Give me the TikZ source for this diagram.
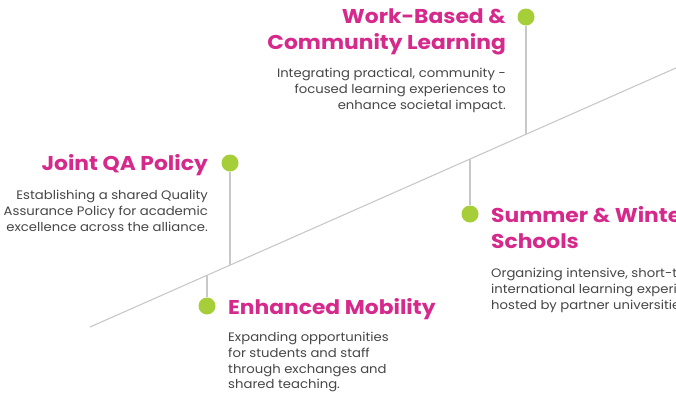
\documentclass[tikz,border=0pt]{standalone}
\usepackage{fontspec}
\setmainfont{Poppins}
\newfontfamily\ttlfont[FakeStretch=1.09]{Poppins}
\newfontfamily\bodyfont[FakeStretch=1.075]{Poppins}
\definecolor{mag}{RGB}{214,41,140}
\definecolor{lime}{RGB}{166,206,57}
\definecolor{txt}{RGB}{70,70,70}
\definecolor{ln}{RGB}{200,200,200}
\begin{document}
\begin{tikzpicture}[x=1pt,y=-1pt,
  dot/.style={circle,fill=lime,inner sep=0pt,minimum size=17pt},
  ttl/.style={text=mag,font=\ttlfont\fontsize{20}{26}\selectfont\bfseries,inner sep=0pt},
  body/.style={text=txt,font=\bodyfont\fontsize{12.3}{15.8}\selectfont,inner sep=0pt},
  lnk/.style={draw=ln,line width=1.1pt}]
\useasboundingbox (0,0) rectangle (676,392);
\clip (0,0) rectangle (676,392);
% main line
\coordinate (s) at (90,327);
\coordinate (e) at (680,66.2);
\draw[lnk] (s) -- (e);
% stems
\coordinate (pq) at (230,265.3);
\coordinate (pm) at (207,275.3);
\coordinate (ps) at (470,159.1);
\coordinate (pw) at (526,134.4);
\node[dot] (dq) at (230,163) {};
\node[dot] (dm) at (207,306) {};
\node[dot] (ds) at (470,214) {};
\node[dot] (dw) at (526,17) {};
\draw[lnk] (dq) -- (pq);
\draw[lnk] (dm) -- (pm);
\draw[lnk] (ds) -- (ps);
\draw[lnk] (dw) -- (pw);
% texts
\node[ttl,anchor=base east] (tq) at (208,170) {Joint QA Policy};
\node[body,anchor=north east,align=right] (bq) at (208,190) {Establishing a shared Quality\\Assurance Policy for academic\\excellence across the alliance.};
\node[ttl,anchor=base east,align=right] (tw) at (506,49) {Work-Based \&\\Community Learning};
\node[body,anchor=north east,align=right] (bw) at (506,68) {Integrating practical, community -\\focused learning experiences to\\enhance societal impact.};
\node[ttl,anchor=base west] (tm) at (228,314) {Enhanced Mobility};
\node[body,anchor=north west,align=left] (bm) at (228,332) {Expanding opportunities\\for students and staff\\through exchanges and\\shared teaching.};
\node[ttl,anchor=base west,align=left] (ts) at (491,248) {Summer \& Winter\\Schools};
\node[body,anchor=north west,align=left] (bs) at (491,268) {Organizing intensive, short-term\\international learning experiences\\hosted by partner universities.};
\end{tikzpicture}
\end{document}
